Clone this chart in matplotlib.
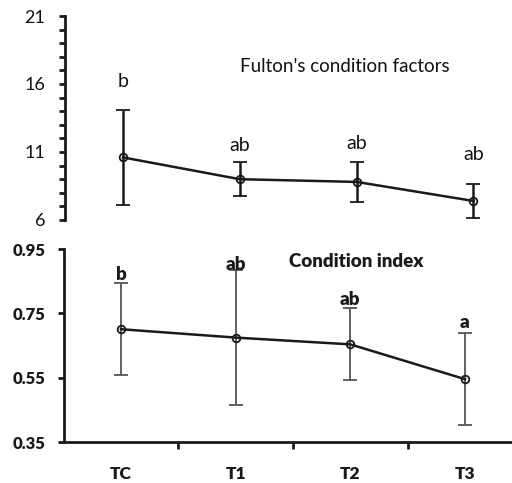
import matplotlib
matplotlib.use("Agg")
import matplotlib.pyplot as plt
from matplotlib.ticker import MultipleLocator, FixedLocator

plt.rcParams['font.family'] = ['Lato', 'DejaVu Sans']

groups = ["TC", "T1", "T2", "T3"]
fulton_mean = [10.6, 9.0, 8.8, 7.4]
fulton_err = [3.5, 1.27, 1.45, 1.27]
fulton_letters = ["b", "ab", "ab", "ab"]
fulton_letter_y = [16.2, 11.45, 11.6, 10.8]

ci_mean = [0.701, 0.675, 0.654, 0.546]
ci_err = [0.142, 0.21, 0.112, 0.143]
ci_letters = ["b", "ab", "ab", "a"]
ci_letter_y = [0.87, 0.901, 0.792, 0.721]

fig = plt.figure(figsize=(5.12, 4.83), dpi=100)

# Top panel
ax1 = fig.add_axes([64.7/512, 1 - 220/483, (512-64.7)/512, 204/483])
x = list(range(len(groups)))
ax1.errorbar(x, fulton_mean, yerr=fulton_err, color='#1a1a1a', lw=1.8,
             elinewidth=1.8, capsize=5, capthick=1.8,
             marker='o', ms=5.5, mfc='none', mec='#1a1a1a', mew=1.3)
ax1.set_xlim(-0.5, 3.33)
ax1.set_ylim(6, 21)
for s in ['top', 'right', 'bottom']:
    ax1.spines[s].set_visible(False)
ax1.spines['left'].set_linewidth(2)
ax1.spines['left'].set_color('#1a1a1a')
ax1.set_xticks([])
ax1.yaxis.set_major_locator(FixedLocator([6, 11, 16, 21]))
ax1.yaxis.set_minor_locator(MultipleLocator(1))
ax1.tick_params(axis='y', which='both', direction='out', length=4, width=2,
                color='#1a1a1a', labelsize=13, pad=10, labelcolor='#111111')
for xi, lab, ly in zip(x, fulton_letters, fulton_letter_y):
    ax1.text(xi, ly, lab, ha='center', va='center', fontsize=14,
             color='#111111')
ax1.text(1.9, 17.25, "Fulton's condition factors", ha='center', va='center',
         fontsize=13.5, color='#111111')
ax1.patch.set_alpha(0)

# Bottom panel
ax2 = fig.add_axes([63.7/512, 1 - 442.3/483, (512-63.7)/512, 193.3/483])
ax2.errorbar(x, ci_mean, yerr=ci_err, fmt='none', ecolor='#555555',
             elinewidth=1.3, capsize=5, capthick=1.3)
ax2.plot(x, ci_mean, color='#1a1a1a', lw=1.8, marker='o', ms=5.5,
         mfc='none', mec='#1a1a1a', mew=1.3)
ax2.set_xlim(-0.5, 3.41)
ax2.set_ylim(0.35, 0.95)
for s in ['top', 'right']:
    ax2.spines[s].set_visible(False)
for s in ['left', 'bottom']:
    ax2.spines[s].set_linewidth(2)
    ax2.spines[s].set_color('#1a1a1a')
ax2.set_yticks([0.35, 0.55, 0.75, 0.95])
ax2.set_yticklabels(["0.35", "0.55", "0.75", "0.95"], fontweight='heavy')
ax2.tick_params(axis='y', direction='out', length=4, width=2, color='#1a1a1a',
                labelsize=12, pad=9, labelcolor='#1a1a1a')
ax2.xaxis.set_major_locator(FixedLocator([0.5, 1.5, 2.5]))
ax2.xaxis.set_major_formatter(plt.NullFormatter())
ax2.xaxis.set_minor_locator(FixedLocator(x))
ax2.set_xticklabels(groups, minor=True, fontweight='heavy')
ax2.tick_params(axis='x', which='major', direction='out', length=5, width=2,
                color='#1a1a1a')
ax2.tick_params(axis='x', which='minor', length=0, labelsize=12.5, pad=17,
                labelcolor='#1a1a1a')
for xi, lab, ly in zip(x, ci_letters, ci_letter_y):
    ax2.text(xi, ly, lab, ha='center', va='center', fontsize=13.5,
             fontweight='heavy', color='#1a1a1a')
ax2.text(2.05, 0.911, "Condition index", ha='center', va='center',
         fontsize=13.5, fontweight='heavy', color='#1a1a1a')
ax2.patch.set_alpha(0)

fig.savefig("out.png", dpi=100)
